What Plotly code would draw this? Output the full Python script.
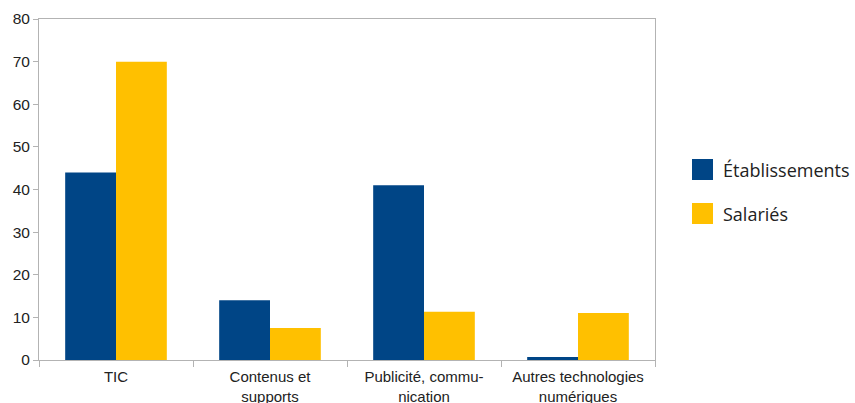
import plotly.graph_objects as go

categories = ["TIC", "Contenus et<br>supports", "Publicité, commu-<br>nication", "Autres technologies<br>numériques"]
etablissements = [44, 14, 41, 0.7]
salaries = [70, 7.5, 11.3, 11]
series_names = ["Établissements", "Salariés"]
colors = ["#004586", "#ffc000"]
y_ticks = [0, 10, 20, 30, 40, 50, 60, 70, 80]

fig = go.Figure()
for name, vals, col in zip(series_names, [etablissements, salaries], colors):
    fig.add_trace(go.Bar(x=categories, y=vals, name=name, marker=dict(color=col, line=dict(width=0)),
                         showlegend=False))

W, H = 855, 403
L, R, T, B = 39, 200, 19, 43

fig.update_layout(
    width=W, height=H,
    margin=dict(l=L, r=R, t=T, b=B, autoexpand=False),
    paper_bgcolor="white", plot_bgcolor="white",
    barmode="group", bargap=0.34, bargroupgap=0,
    font=dict(family="Liberation Sans, Arial, sans-serif", size=15, color="#222"),
)
fig.update_xaxes(
    type="category", tickson="boundaries", ticks="outside", ticklen=6, tickcolor="#b3b3b3",
    showline=True, linecolor="#b3b3b3", linewidth=1, mirror=True, showgrid=False, automargin=False,
    ticklabelstandoff=3,
    tickfont=dict(family="Liberation Sans, Arial, sans-serif", size=15, color="#222"),
)
fig.update_yaxes(
    range=[0, 80], tickvals=y_ticks, ticks="outside", ticklen=5, tickcolor="#b3b3b3",
    showline=True, linecolor="#b3b3b3", linewidth=1, mirror=True, showgrid=False, zeroline=False,
    automargin=False,
    tickfont=dict(family="Liberation Sans, Arial, sans-serif", size=15.5, color="#222"),
)

# legend drawn manually (large square swatches as in the reference)
leg_x0 = 692
leg_ys = [159, 203]
for name, col, y0 in zip(series_names, colors, leg_ys):
    fig.add_shape(type="rect", xref="paper", yref="paper",
                  x0=(leg_x0 - L) / (W - L - R), x1=(leg_x0 + 21 - L) / (W - L - R),
                  y0=(H - B - (y0 + 21)) / (H - T - B), y1=(H - B - y0) / (H - T - B),
                  fillcolor=col, line=dict(width=0))
    fig.add_annotation(xref="paper", yref="paper",
                       x=(leg_x0 + 29 - L) / (W - L - R), y=(H - B - (y0 + 11)) / (H - T - B),
                       text=name, showarrow=False, xanchor="left", yanchor="middle",
                       font=dict(family="Open Sans, sans-serif", size=18, color="#222"))

fig.write_html("out.html", config={"displayModeBar": False},
               post_script="document.body.style.margin='0';document.body.style.overflow='hidden';")
